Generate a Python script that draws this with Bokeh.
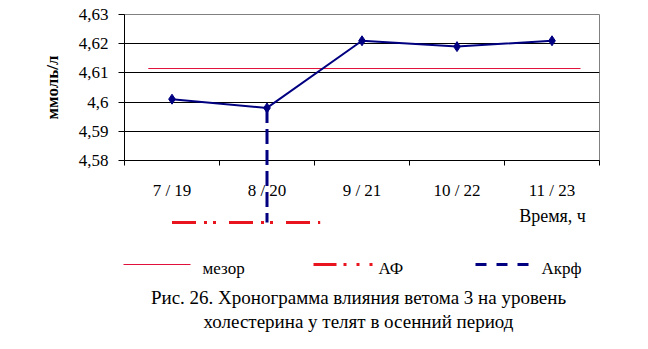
from bokeh.plotting import figure
from bokeh.models import Range1d, FixedTicker, CustomJSTickFormatter, ColumnDataSource
from bokeh.core.properties import value
from bokeh.embed import file_html
from bokeh.resources import INLINE

# ---- data ----
categories = ["7 / 19", "8 / 20", "9 / 21", "10 / 22", "11 / 23"]
values = [4.601, 4.598, 4.621, 4.619, 4.621]
mesor = 4.6115
mesor_span = [0.25, 4.8]          # category units
af_span = [0.5, 2.06]             # category units
af_level = 4.5588
akrf_index = 1
akrf_bottom = 4.5588
y_ticks = [4.58, 4.59, 4.60, 4.61, 4.62, 4.63]
y_title = "ммоль/л"
x_title = "Время, ч"
legend_labels = ["мезор", "АФ", "Акрф"]
caption = ["Рис. 26. Хронограмма влияния ветома 3 на уровень",
           "холестерина у телят в осенний период"]

FONT = "Liberation Serif"
FS = "17px"
MESOR_C = "#e0103a"
AF_C = "#e8141e"
LINE_C = "#000080"
AF_DASH = "24 8 3 6 3 13"
AKRF_DASH = "15 6"

# frame: left 124, right 599, top 14, bottom 160
W, H = 648, 349
FL, FR, FT, FB = 124, 599, 14, 160
y0, y1 = 4.58, 4.63
nx = len(categories)

p = figure(width=W, height=H, output_backend="svg", toolbar_location=None,
           x_range=Range1d(0, nx), y_range=Range1d(y0, y1),
           min_border_left=FL, min_border_right=W - FR,
           min_border_top=FT, min_border_bottom=H - FB,
           background_fill_color="white", border_fill_color="white")

def ypx(v_px):
    return y0 + (FB - v_px) * (y1 - y0) / (FB - FT)

def xpx(x_px):
    return (x_px - FL) * nx / (FR - FL)

xs = [i + 0.5 for i in range(nx)]

p.outline_line_color = "#808080"
p.outline_line_width = 1
p.xgrid.visible = False
p.ygrid.ticker = FixedTicker(ticks=y_ticks[1:-1])
p.ygrid.grid_line_color = "black"
p.ygrid.grid_line_width = 1

# x axis
xa = p.xaxis[0]
xa.ticker = FixedTicker(ticks=xs, minor_ticks=list(range(nx + 1)))
xa.major_label_overrides = {x: c for x, c in zip(xs, categories)}
xa.major_tick_out = 0
xa.major_tick_in = 0
xa.minor_tick_out = 5
xa.minor_tick_in = 0
xa.minor_tick_line_color = "black"
xa.axis_line_color = "black"
xa.major_label_standoff = 15
xa.major_label_text_font = FONT
xa.major_label_text_font_size = FS
xa.major_label_text_color = "black"

# y axis
ya = p.yaxis[0]
ya.ticker = FixedTicker(ticks=y_ticks)
ya.formatter = CustomJSTickFormatter(
    code="var s = tick.toFixed(2); if (s.endsWith('0')) s = s.slice(0, -1); return s.replace('.', ',');")
ya.major_tick_out = 6
ya.major_tick_in = 0
ya.minor_tick_line_color = None
ya.axis_line_color = "black"
ya.major_label_standoff = 10
ya.major_label_text_font = FONT
ya.major_label_text_font_size = FS
ya.major_label_text_color = "black"
ya.axis_label = y_title
ya.axis_label_text_font = FONT
ya.axis_label_text_font_size = FS
ya.axis_label_text_font_style = "bold"
ya.axis_label_text_color = "black"
ya.axis_label_standoff = 14

# mesor
p.line(mesor_span, [mesor, mesor], line_color=MESOR_C, line_width=1)

# AF line (below the axis)
p.line(af_span, [af_level, af_level], line_color=AF_C, line_width=3,
       line_dash=AF_DASH, level="overlay")

# data line
src = ColumnDataSource(dict(x=xs, y=values))
p.line("x", "y", source=src, line_color=LINE_C, line_width=2)
p.scatter("x", "y", source=src, marker="diamond", size=10, color=LINE_C)

# acrophase
p.line([xs[akrf_index], xs[akrf_index]], [values[akrf_index], akrf_bottom],
       line_color=LINE_C, line_width=3, line_dash=AKRF_DASH, level="overlay")

def txt(xp, yp, s, align="center", size=FS, style="normal"):
    p.text(x=[xpx(xp)], y=[ypx(yp)], text=[s], text_align=align,
           text_baseline="middle", text_font=value(FONT), text_font_size=value(size),
           text_font_style=style, text_color="black", level="overlay")

# time title
txt(552, 215, x_title, size="18px")

# legend (drawn by hand below the chart)
leg_y = 264
p.line([xpx(123), xpx(190)], [ypx(leg_y)] * 2, line_color=MESOR_C, line_width=1, level="overlay")
txt(202, 268, legend_labels[0], align="left")
p.line([xpx(313), xpx(373)], [ypx(leg_y)] * 2, line_color=AF_C, line_width=3,
       line_dash="23 7 3 10 3 10 3 20", level="overlay")
txt(378, 268, legend_labels[1], align="left")
p.line([xpx(475), xpx(529)], [ypx(leg_y)] * 2, line_color=LINE_C, line_width=3,
       line_dash="11 10", level="overlay")
txt(541, 268, legend_labels[2], align="left")

# caption
for i, line in enumerate(caption):
    txt(358, 297 + 24 * i, line, size="19px")

open("out.html", "w").write(file_html(p, INLINE))
